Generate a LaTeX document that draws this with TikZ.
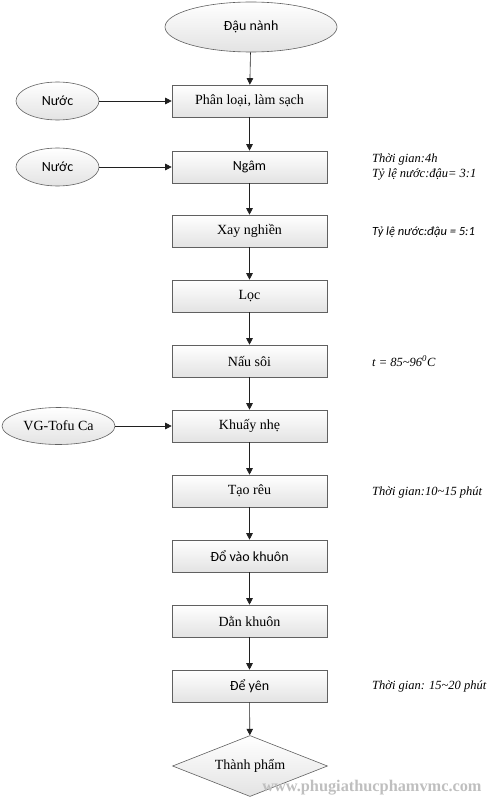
\documentclass[tikz,border=0pt]{standalone}
\usepackage{fontspec}
\setmainfont{Liberation Serif}
\newfontfamily\calfont{Carlito}
\usetikzlibrary{shapes.geometric,arrows.meta}
\tikzset{
  stepbox/.style={rectangle, draw=gray!75!black, line width=0.6pt, top color=white, bottom color=gray!22,
    minimum width=155pt, minimum height=32pt, inner sep=0pt, font=\fontsize{14}{16}\selectfont},
  oval/.style={ellipse, draw=gray!75!black, line width=0.6pt, top color=white, bottom color=gray!22, inner sep=0pt},
  flow/.style={draw=gray!25!black, line width=0.6pt, -{Triangle[width=6.5pt,length=6.5pt]}},
  note/.style={anchor=west, inner sep=0pt, font=\fontsize{12.5}{15}\selectfont\itshape, align=left},
  sansf/.style={font=\fontsize{14}{16}\selectfont\calfont}
}
\begin{document}
\begin{tikzpicture}[x=1pt,y=-1pt]
\useasboundingbox (0,0) rectangle (491,800);
\node[oval, minimum width=172pt, minimum height=50pt, sansf] (dau) at (251,27) {Đậu nành};
\node[stepbox] (b1) at (249.5,101) {Phân loại, làm sạch};
\node[stepbox, sansf] (b2) at (249.5,167) {Ngâm};
\node[stepbox] (b3) at (249.5,231) {Xay nghiền};
\node[stepbox] (b4) at (249.5,296) {Lọc};
\node[stepbox] (b5) at (249.5,361) {Nấu sôi};
\node[stepbox] (b6) at (249.5,426) {Khuấy nhẹ};
\node[stepbox] (b7) at (249.5,491) {Tạo rêu};
\node[stepbox, sansf] (b8) at (249.5,556) {Đổ vào khuôn};
\node[stepbox] (b9) at (249.5,621) {Dằn khuôn};
\node[stepbox, sansf] (b10) at (249.5,686) {Để yên};
\node[diamond, draw=gray!75!black, line width=0.6pt, top color=white, bottom color=gray!22, aspect=2.54,
  minimum width=155pt, minimum height=61pt, inner sep=0pt, font=\fontsize{14}{16}\selectfont] (tp) at (250,766) {Thành phẩm};

\node[oval, minimum width=83pt, minimum height=38pt, sansf] (n1) at (57.5,101) {Nước};
\node[oval, minimum width=83pt, minimum height=38pt, sansf] (n2) at (57.5,167) {Nước};
\node[oval, minimum width=113pt, minimum height=37pt, font=\fontsize{14}{16}\selectfont] (vg) at (58.5,426) {VG-Tofu Ca};

\draw[flow] (dau) -- (b1);
\draw[flow] (b1) -- (b2);
\draw[flow] (b2) -- (b3);
\draw[flow] (b3) -- (b4);
\draw[flow] (b4) -- (b5);
\draw[flow] (b5) -- (b6);
\draw[flow] (b6) -- (b7);
\draw[flow] (b7) -- (b8);
\draw[flow] (b8) -- (b9);
\draw[flow] (b9) -- (b10);
\draw[flow] (b10) -- (tp);
\draw[flow] (n1) -- (b1);
\draw[flow] (n2) -- (b2);
\draw[flow] (vg) -- (b6);

\node[note] (a1) at (372,167) {Thời gian:4h\\Tỷ lệ nước:đậu= 3:1};
\node[note, font=\fontsize{12.5}{15}\selectfont\calfont\itshape] (a2) at (372,232) {Tỷ lệ nước:đậu = 5:1};
\node[note] (a3) at (372,361) {t = 85\textasciitilde96\textsuperscript{0}C};
\node[note] (a4) at (372,492) {Thời gian:10\textasciitilde15 phút};
\node[note] (a5) at (372,686) {Thời gian: 15\textasciitilde20 phút};
\node[font=\fontsize{16.3}{18}\selectfont\bfseries, text=gray!50, inner sep=0pt] (wm) at (372,788) {www.phugiathucphamvmc.com};
\end{tikzpicture}
\end{document}
